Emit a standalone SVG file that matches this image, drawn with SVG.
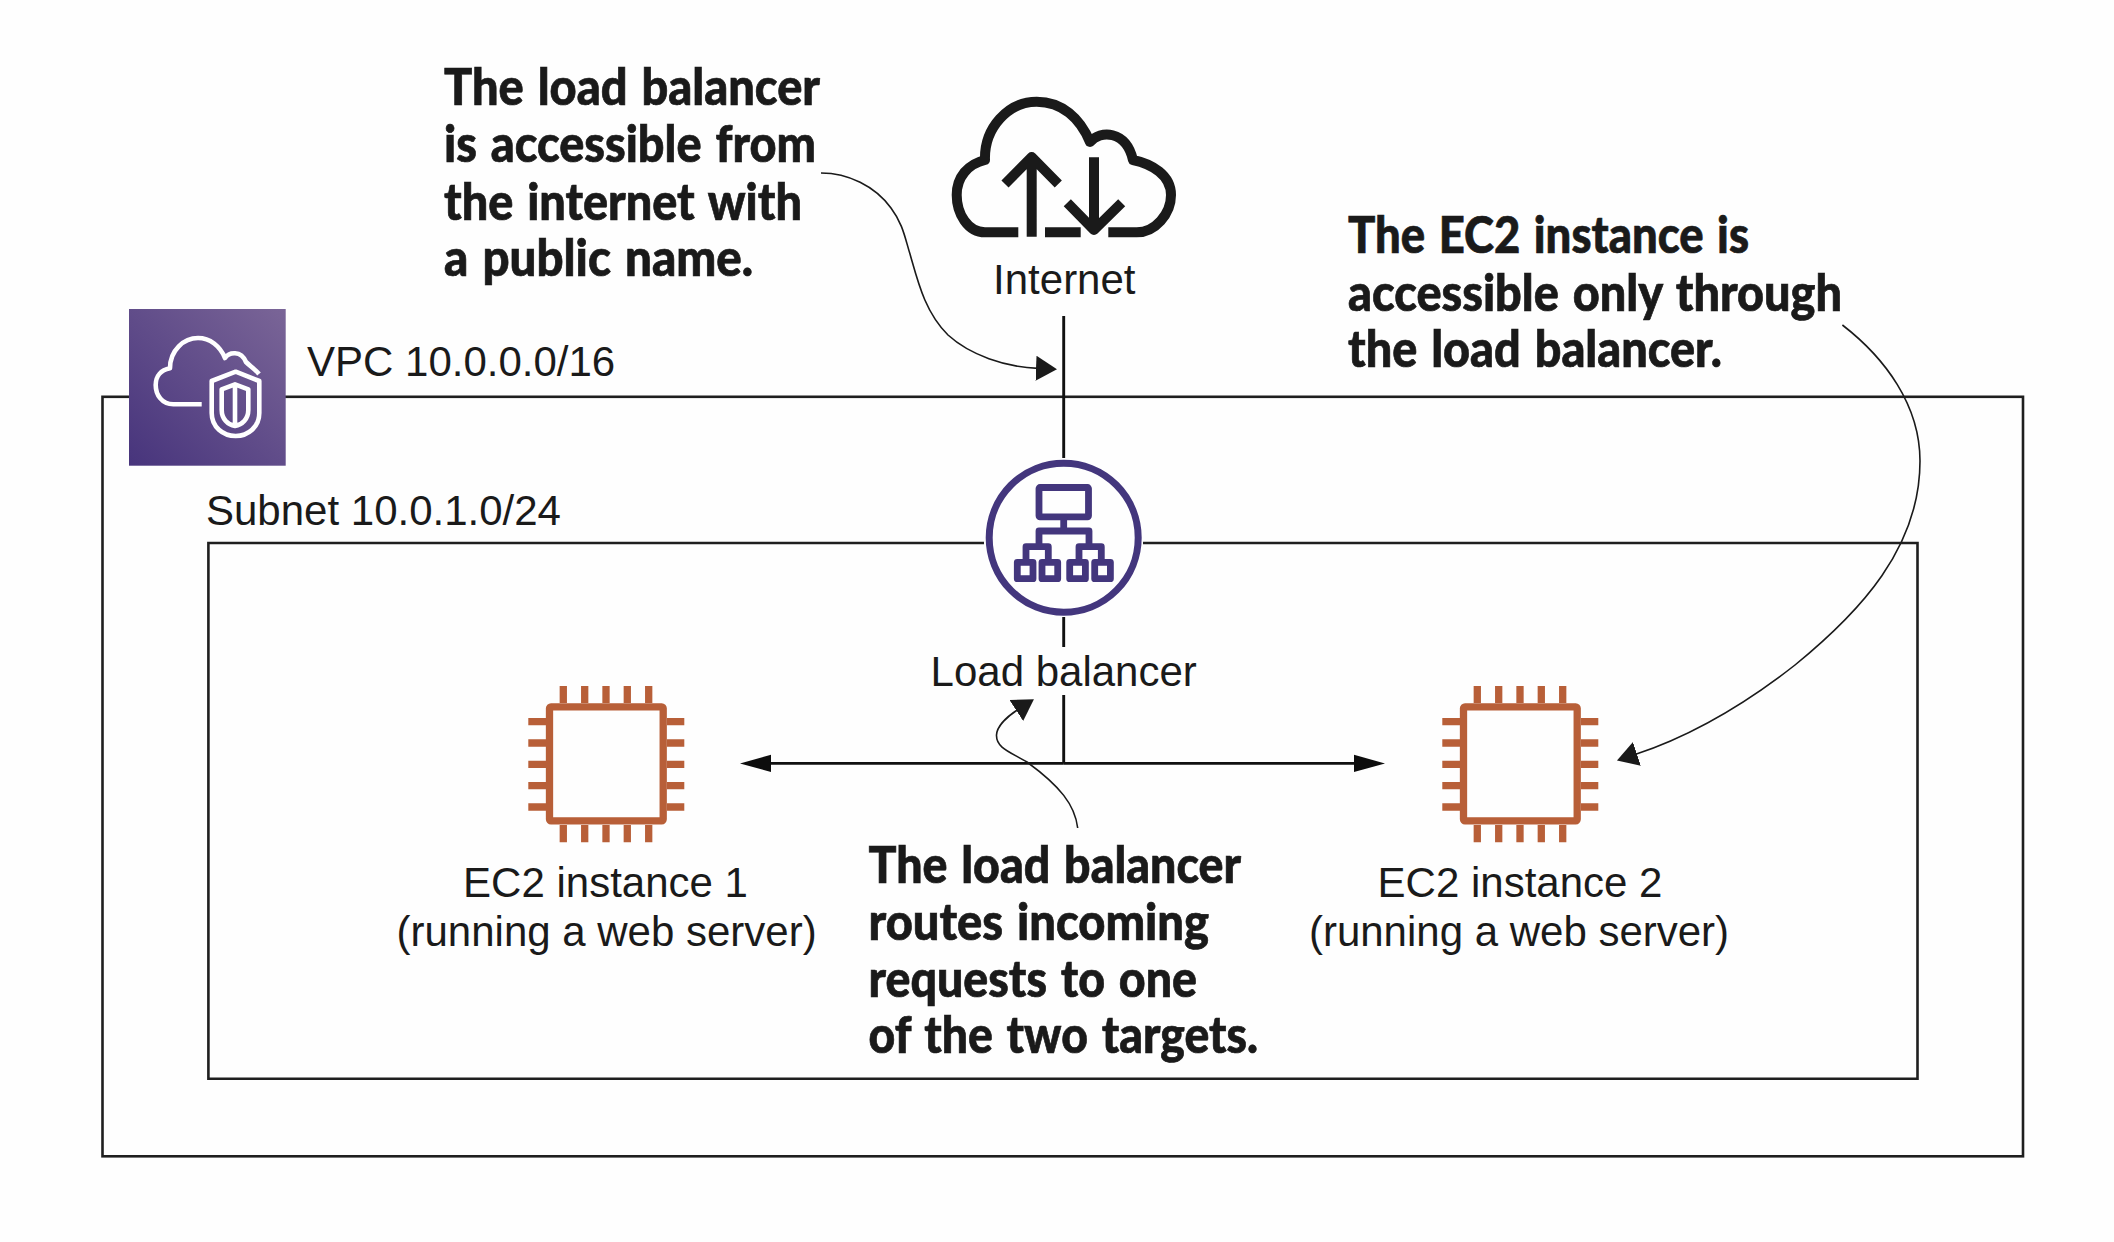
<svg xmlns="http://www.w3.org/2000/svg" width="2114" height="1242" viewBox="0 0 2114 1242">
<style>
.lbl{font-family:"Liberation Sans",Arial,sans-serif;font-size:42px;fill:#1a1a1a}
.call{font-family:"Lato",sans-serif;font-weight:900;font-size:50.5px;fill:#1a1a1a;stroke:#1a1a1a;stroke-width:.7;word-spacing:3px}
.box{fill:none;stroke:#1f1f1f;stroke-width:2.6}
.line{fill:none;stroke:#111;stroke-width:2.9}
.curve{fill:none;stroke:#1a1a1a;stroke-width:1.6}
.ink{fill:none;stroke:#1a1a1a;stroke-width:10;stroke-linejoin:round}
.wh{fill:none;stroke:#fff;stroke-width:4.6;stroke-linejoin:round}
.pur{fill:none;stroke:#43367d;stroke-width:6.8;stroke-linejoin:round}
.chip{fill:none;stroke:#b85f38;stroke-width:7.3;stroke-linejoin:round}
</style>
<defs>
<linearGradient id="vpcGrad" x1="0" y1="1" x2="1" y2="0"><stop offset="0" stop-color="#47347c"/><stop offset="1" stop-color="#7a6597"/></linearGradient>
<marker id="big" markerUnits="userSpaceOnUse" markerWidth="34" markerHeight="20" refX="6.2" refY="9" orient="auto-start-reverse"><path d="M0,.4L31.2,9L0,17.6Z" fill="#0d0d0d"/></marker>
<marker id="small" markerUnits="userSpaceOnUse" markerWidth="24" markerHeight="27" refX="2" refY="13" orient="auto"><path d="M0,.5L21,13L0,25.5Z" fill="#1a1a1a"/></marker>
<g id="chipShape">
<rect x="549.5" y="706.8" width="113.7" height="114" rx="1.5" class="chip"/>
<path class="chip" d="M563.3,686V703M584.7,686V703M606,686V703M627.3,686V703M648.7,686V703M563.3,825V842.3M584.7,825V842.3M606,825V842.3M627.3,825V842.3M648.7,825V842.3M528.3,721.7H546M528.3,743H546M528.3,764.3H546M528.3,785.7H546M528.3,807H546M667,721.7H684.3M667,743H684.3M667,764.3H684.3M667,785.7H684.3M667,807H684.3"/>
</g>
</defs>
<rect width="2114" height="1242" fill="#fefefe"/>
<g id="vpc"><rect class="box" x="102.5" y="396.8" width="1920.5" height="759.5"/>
<text class="lbl" x="307" y="375.6">VPC 10.0.0.0/16</text></g>
<g id="subnet"><path class="box" d="M984,543H208.4V1078.7H1917.5V543H1143"/>
<text class="lbl" x="206" y="524.6">Subnet 10.0.1.0/24</text></g>
<g id="connectors">
<path class="line" d="M1063.7,316V458M1063.7,617V647M1063.7,695V763.4"/>
<path class="line" d="M1063.7,763.4H1360" marker-end="url(#big)"/>
<path class="line" d="M1063.7,763.4H765" marker-end="url(#big)"/>
<path class="curve" d="M821,173C848,173 875,186 891,208C903,224 905,238 910,254C918,282 925,312 948,335C970,355 1005,367 1038,368.4" marker-end="url(#small)"/>
<path class="curve" d="M1077.7,828C1075,805 1060,786 1027,762C1010,752 996,748 996.5,735C997,726 1008,716 1018,709.5" marker-end="url(#small)"/>
<path class="curve" d="M1842.4,325C1885,358 1920,405 1920,461C1920,548 1860,612 1795,665C1740,708 1685,738 1635,754.5" marker-end="url(#small)"/>
</g>
<g id="vpc-icon">
<rect x="129" y="309" width="156.7" height="156.7" fill="url(#vpcGrad)"/>
<path class="wh" d="M201.7,404.3H173.3C162,404.3 155.7,395 155.7,385C155.7,376 161,370 170,368.3C170,350 184,338 198,338C210,338 220,346 225,358C229,352 241,350 246,362C250,366 255,369 259,374"/>
<path class="wh" d="M235.7,371.7L211.7,381V413C211.7,427 223,436 235.7,436C248,436 259.3,427 259.3,413V381Z"/>
<path class="wh" d="M235,384.3L221.7,389.3V410C221.7,419 228,425 235,426C242,425 248.3,419 248.3,410V389.3ZM235,385V425"/>
</g>
<g id="internet">
<path class="ink" d="M1018.3,232.3H985C968,232.3 956.7,214 956.7,195C956.7,177 968,164 985,160C984,128 1008,101.7 1036.7,101.7C1062,101.7 1080,118 1090,142C1100,130 1126,130 1133,160C1152,164 1171,175 1171,195C1171,214 1155,232.3 1136.7,232.3H1108.3M1045,232.3H1080.7"/>
<path class="ink" d="M1031.7,236.7V158M1005,184L1031.7,157L1058.3,184M1094,157.3V228M1067.3,202.7L1094,230L1121.7,202.7"/>
<text class="lbl" x="1064.3" y="293.6" text-anchor="middle">Internet</text>
</g>
<g id="load-balancer">
<circle cx="1063.7" cy="537.7" r="74.5" fill="none" stroke="#43367d" stroke-width="7"/>
<rect class="pur" x="1039" y="487.5" width="49.5" height="29.3" rx="1"/>
<path class="pur" d="M1063.7,517V531M1039,545V531H1089V545M1026,563V546.7H1048.3V563M1079,563V546.7H1101.3V563"/>
<rect class="pur" x="1017.3" y="562.3" width="15.7" height="16.4"/>
<rect class="pur" x="1042" y="562.3" width="15.7" height="16.4"/>
<rect class="pur" x="1069.7" y="562.3" width="15.7" height="16.4"/>
<rect class="pur" x="1094.7" y="562.3" width="15.7" height="16.4"/>
<text class="lbl" x="1063.7" y="685.6" text-anchor="middle">Load balancer</text>
</g>
<g id="ec2-1"><use href="#chipShape"/>
<text class="lbl" x="605.5" y="896.6" text-anchor="middle">EC2 instance 1</text>
<text class="lbl" x="606.6" y="945.6" text-anchor="middle">(running a web server)</text></g>
<g id="ec2-2"><use href="#chipShape" x="914"/>
<text class="lbl" x="1520" y="896.6" text-anchor="middle">EC2 instance 2</text>
<text class="lbl" x="1519" y="945.6" text-anchor="middle">(running a web server)</text></g>
<g id="note-lb-public">
<text class="call" x="444" y="105" textLength="376" lengthAdjust="spacingAndGlyphs">The load balancer</text>
<text class="call" x="444" y="162.3" textLength="372" lengthAdjust="spacingAndGlyphs">is accessible from</text>
<text class="call" x="444" y="219.7" textLength="358" lengthAdjust="spacingAndGlyphs">the internet with</text>
<text class="call" x="444" y="276.4" textLength="309" lengthAdjust="spacingAndGlyphs">a public name.</text>
</g>
<g id="note-ec2">
<text class="call" x="1348" y="253.3" textLength="401" lengthAdjust="spacingAndGlyphs">The EC2 instance is</text>
<text class="call" x="1348" y="310.5" textLength="494" lengthAdjust="spacingAndGlyphs">accessible only through</text>
<text class="call" x="1348" y="366.7" textLength="374" lengthAdjust="spacingAndGlyphs">the load balancer.</text>
</g>
<g id="note-routes">
<text class="call" x="868.5" y="883.3" textLength="372.5" lengthAdjust="spacingAndGlyphs">The load balancer</text>
<text class="call" x="868.5" y="940.3" textLength="340.5" lengthAdjust="spacingAndGlyphs">routes incoming</text>
<text class="call" x="868.5" y="997" textLength="328.5" lengthAdjust="spacingAndGlyphs">requests to one</text>
<text class="call" x="868.5" y="1053.3" textLength="389.5" lengthAdjust="spacingAndGlyphs">of the two targets.</text>
</g>
</svg>
